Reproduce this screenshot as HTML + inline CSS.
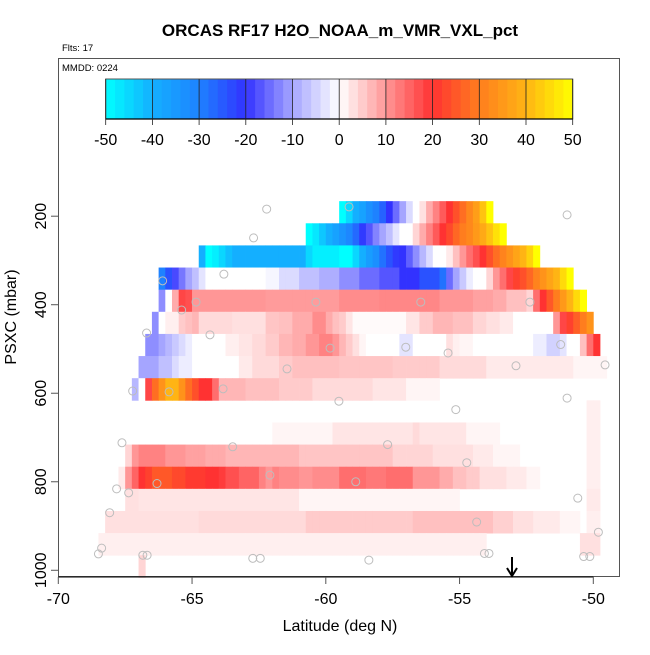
<!DOCTYPE html>
<html><head><meta charset="utf-8">
<style>
html,body{margin:0;padding:0;background:#fff;}
svg text{font-family:"Liberation Sans",Arial,sans-serif;}
</style></head>
<body>
<svg id="chart" width="650" height="650" viewBox="0 0 650 650" xmlns="http://www.w3.org/2000/svg">
<rect x="0" y="0" width="650" height="650" fill="#fff"/>
<text x="340" y="36" text-anchor="middle" font-size="17" font-weight="bold">ORCAS RF17 H2O_NOAA_m_VMR_VXL_pct</text>
<text x="62" y="51" font-size="9.5">Flts: 17</text>
<g id="cells"></g>
<g id="points"></g>
<rect x="58.5" y="58.5" width="561" height="518" fill="none" stroke="#555" stroke-width="1"/>
<text x="62" y="71" font-size="9.5">MMDD: 0224</text>
<g id="colorbar"></g>
<g id="axes"></g>
<g>
<line x1="512" y1="557" x2="512" y2="574" stroke="#000" stroke-width="2"/>
<path d="M507,568 L512,576 L517,568" fill="none" stroke="#000" stroke-width="2"/>
</g>
<text x="340" y="631" text-anchor="middle" font-size="16">Latitude (deg N)</text>
<text x="0" y="0" transform="translate(16,317) rotate(-90)" text-anchor="middle" font-size="16">PSXC (mbar)</text>
</svg>
<script>
// ---- data ----
const latTicks = [-70, -65, -60, -55, -50];
const presTicks = [200, 400, 600, 800, 1000];
const cbTicks = [-50, -40, -30, -20, -10, 0, 10, 20, 30, 40, 50];
// pressure row bins: top edge of each 50 mbar row (mbar)
const rowTops = [166, 216, 266, 316, 366, 416, 466, 516, 566, 616, 666, 716, 766, 816, 866, 916, 966];
// starting 0.25-degree bin index (from -70) for each row
const rowStarts = [42, 37, 21, 15, 15, 14, 13, 12, 11, 79, 32, 10, 9, 10, 7, 6, 12];
// runs of [value(pct), nCells] per row
const rowRuns = [
 [[-50,1],[-45,1],[-40,1],[-37,1],[-33,1],[-30,1],[-26,1],[-20,1],[-15,1],[-10,1],[-4,1],[0,1],[3,1],[8,1],[12,1],[16,1],[20,1],[24,1],[28,1],[32,1],[36,1],[42,1],[50,1]],
 [[-50,1],[-47,1],[-43,1],[-40,1],[-37,1],[-34,1],[-31,1],[-27,1],[-21,1],[-17,1],[-13,1],[-10,1],[-7,1],[-3,1],[0,2],[4,1],[8,1],[12,1],[16,1],[20,1],[23,1],[27,1],[30,1],[32,1],[35,1],[38,1],[42,1],[46,1],[50,1]],
 [[-40,1],[-50,1],[-48,1],[-45,1],[-42,1],[-40,11],[-45,1],[-48,4],[-50,2],[-45,1],[-40,1],[-36,1],[-33,1],[-28,1],[-24,1],[-21,1],[-20,1],[-16,1],[-12,1],[-8,1],[-4,1],[0,2],[2,1],[6,1],[10,1],[14,1],[17,1],[20,1],[24,1],[28,1],[31,1],[34,1],[37,1],[40,1],[44,1],[50,1]],
 [[-30,1],[-24,1],[-18,1],[-14,1],[-10,1],[-7,1],[-3,1],[0,9],[-1,2],[-4,3],[-7,3],[-9,3],[-12,3],[-15,3],[-17,3],[-20,3],[-24,3],[-28,1],[-15,1],[-10,1],[-6,1],[-2,1],[0,2],[4,1],[10,1],[14,1],[18,1],[22,1],[24,1],[27,1],[31,1],[34,1],[37,1],[40,1],[45,1],[50,1]],
 [[-12,1],[0,1],[8,1],[18,1],[17,1],[10,11],[9.5,11],[11,6],[11.5,9],[10,5],[9,3],[8,2],[6,3],[4,1],[14,1],[20,1],[25,1],[30,1],[35,1],[40,1],[45,1],[50,1]],
 [[-12,1],[0,1],[1.5,2],[5,1],[6,1],[7,1],[3.5,5],[3,5],[5.5,2],[6,2],[8,3],[11,2],[8,1],[6,1],[5,1],[2.5,1],[0.5,8],[2.5,2],[5,2],[7,3],[6,3],[4,2],[3,2],[2,2],[0,6],[10,1],[18,1],[22,1],[26,1],[30,1],[34,1]],
 [[-12,2],[-10,1],[-8,1],[-6,1],[-4,1],[-2,1],[0,5],[1.5,2],[2.5,2],[3.5,2],[5,2],[7,2],[8,2],[10,2],[12,2],[10,1],[7,1],[5,1],[3,1],[1,1],[0,5],[-3,2],[0,5],[3,1],[1.5,1],[1,2],[0,9],[-2,2],[-5,2],[-3,1],[0,2],[6,1],[14,1],[20,1]],
 [[-10,3],[-7,2],[-4,1],[-2,2],[0,7],[2,2],[3.5,4],[5,2],[6,7],[5.5,8],[5,7],[3.5,7],[2,13],[1,5]],
 [[-8,1],[0,1],[18,1],[28,1],[34,1],[40,2],[34,1],[28,1],[24,1],[20,1],[20,1],[14,1],[7,4],[6,5],[5,5],[3.5,9],[2.5,5],[1,5]],
 [[1.5,2]],
 [[1,9],[2.5,12],[3.5,1],[2.5,7],[1,5]],
 [[4,1],[10,1],[12,4],[10,3],[9,3],[8,3],[7,11],[5.5,14],[4,6],[3,6],[2,3],[1,4]],
 [[2,1],[10,1],[15,1],[20,1],[22,1],[25,1],[25,2],[23,2],[21,3],[20,2],[19,1],[17,2],[15,3],[12,1],[10,1],[12,1],[11,3],[10,2],[11,4],[14,4],[13,3],[14,4],[10,4],[8,2],[6,2],[5,2],[3,4],[2,3],[1,2]],
 [[3,2],[2.5,24],[1,24]],
 [[3,14],[3.5,16],[5,16],[6,12],[4.5,3],[3,3],[2,4],[1,3]],
 [[1.5,58]],
 [[4,1]]
];
// extra narrow strip at right edge (rows 10..14), cells 79..80
const stripRows = [10, 11, 12, 13, 14];
const stripValues = [1.5, 1.5, 1.5, 2, 1.5];
const stripStart = 79;
const stripLen = 2;
const extraRow15Start = 78;
const extraRow15Value = 3;
// sample points
const ptLat = [-62.21,-59.13,-50.98,-62.70,-63.81,-66.10,-64.85,-60.37,-56.45,-52.37,-65.39,-66.70,-64.33,-59.84,-57.01,-55.43,-51.22,-61.45,-52.89,-49.56,-67.22,-65.86,-63.84,-59.51,-50.98,-55.14,-67.62,-63.48,-57.69,-54.73,-62.09,-58.88,-66.31,-67.82,-67.37,-50.58,-68.08,-54.36,-49.81,-68.38,-68.50,-66.84,-66.68,-62.73,-62.45,-58.39,-54.07,-53.90,-50.36,-50.13];
const ptPres = [184,179,197,249,331,346,394,394,394,394,412,464,468,498,496,509,490,545,538,536,595,597,590,618,611,637,712,721,716,757,785,800,804,816,825,837,870,891,914,950,963,966,966,973,973,977,962,962,969,969];

// ---- scales ----
function xS(lat){ return 58.3 + (lat + 70) * 26.75; }
function yS(p){ return 216.2 + (p - 200) * 0.4426; }
function binLat(i){ return -70 + 0.25 * i; }
const stops = [[-50,[0,255,255]],[-40,[20,175,255]],[-30,[30,130,255]],[-20,[50,50,255]],[-10,[165,165,255]],[0,[255,255,255]],[10,[255,150,150]],[20,[255,50,50]],[30,[255,125,30]],[40,[255,180,20]],[50,[255,255,0]]];
function col(v){
  v = Math.max(-50, Math.min(50, v));
  for (let k = 0; k < stops.length - 1; k++) {
    const a = stops[k], b = stops[k+1];
    if (v <= b[0]) {
      const t = (v - a[0]) / (b[0] - a[0]);
      const c = a[1].map((q, j) => Math.round(q + (b[1][j] - q) * t));
      return 'rgb(' + c.join(',') + ')';
    }
  }
  return 'rgb(255,255,0)';
}
const NS = 'http://www.w3.org/2000/svg';
function mk(tag, attrs, parent){
  const e = document.createElementNS(NS, tag);
  for (const k in attrs) e.setAttribute(k, attrs[k]);
  parent.appendChild(e);
  return e;
}
function cell(g, i, r, v){
  const x0 = xS(binLat(i)), x1 = xS(binLat(i + 1));
  const y0 = yS(rowTops[r]), y1 = yS(rowTops[r] + 50);
  const e = mk('rect', {x: x0, y: y0, width: x1 - x0 + 0.4, height: y1 - y0 + 0.4, fill: col(v)}, g);
  
  
}
// ---- cells ----
const cg = document.getElementById('cells');
rowRuns.forEach((runs, r) => {
  let i = rowStarts[r];
  runs.forEach(run => {
    for (let n = 0; n < run[1]; n++) { cell(cg, i, r, run[0]); i++; }
  });
});
stripRows.forEach((r, k) => {
  for (let n = 0; n < stripLen; n++) cell(cg, stripStart + n, r, stripValues[k]);
});
for (let n = 0; n < 3; n++) cell(cg, extraRow15Start + n, 15, extraRow15Value);

// ---- points ----
const pg = document.getElementById('points');
ptLat.forEach((la, k) => {
  const c = mk('circle', {cx: xS(la), cy: yS(ptPres[k]), r: 4, fill: 'none', stroke: '#bdbdbd', 'stroke-width': 1}, pg);
  
  
});

// ---- axes ----
const ag = document.getElementById('axes');
mk('line', {x1: xS(-70), x2: xS(-50), y1: 577, y2: 577, stroke: '#000'}, ag);
latTicks.forEach(t => {
  const l = mk('line', {x1: xS(t), x2: xS(t), y1: 577, y2: 584, stroke: '#555'}, ag);
  
  
  const tx = mk('text', {x: xS(t), y: 604, 'text-anchor': 'middle', 'font-size': 16}, ag);
  tx.textContent = t;
  
  
});
presTicks.forEach(t => {
  const l = mk('line', {x1: 51, x2: 58.5, y1: yS(t), y2: yS(t), stroke: '#555'}, ag);
  
  
  const tx = mk('text', {x: 0, y: 0, transform: 'translate(46,' + yS(t) + ') rotate(-90)', 'text-anchor': 'middle', 'font-size': 16}, ag);
  tx.textContent = t;
  
  
});

// ---- colorbar ----
const cb = document.getElementById('colorbar');
function cbx(v){ return 105.7 + (v + 50) * 4.67; }
for (let v = -50; v < 50; v += 2) {
  const r = mk('rect', {x: cbx(v), y: 79, width: cbx(v + 2) - cbx(v) + 0.4, height: 40, fill: col(v + 1)}, cb);
  
  
}
mk('rect', {x: cbx(-50), y: 79, width: cbx(50) - cbx(-50), height: 40, fill: 'none', stroke: '#555'}, cb);
mk('line', {x1: cbx(-50), x2: cbx(50), y1: 119, y2: 119, stroke: '#000', 'stroke-width': 1.3}, cb);
cbTicks.forEach(t => {
  mk('line', {x1: cbx(t), x2: cbx(t), y1: 79, y2: 125, stroke: '#222', 'stroke-width': 0.8}, cb);
  const tx = mk('text', {x: cbx(t), y: 145, 'text-anchor': 'middle', 'font-size': 16}, cb);
  tx.textContent = t;
  
  
});
</script>
</body></html>
